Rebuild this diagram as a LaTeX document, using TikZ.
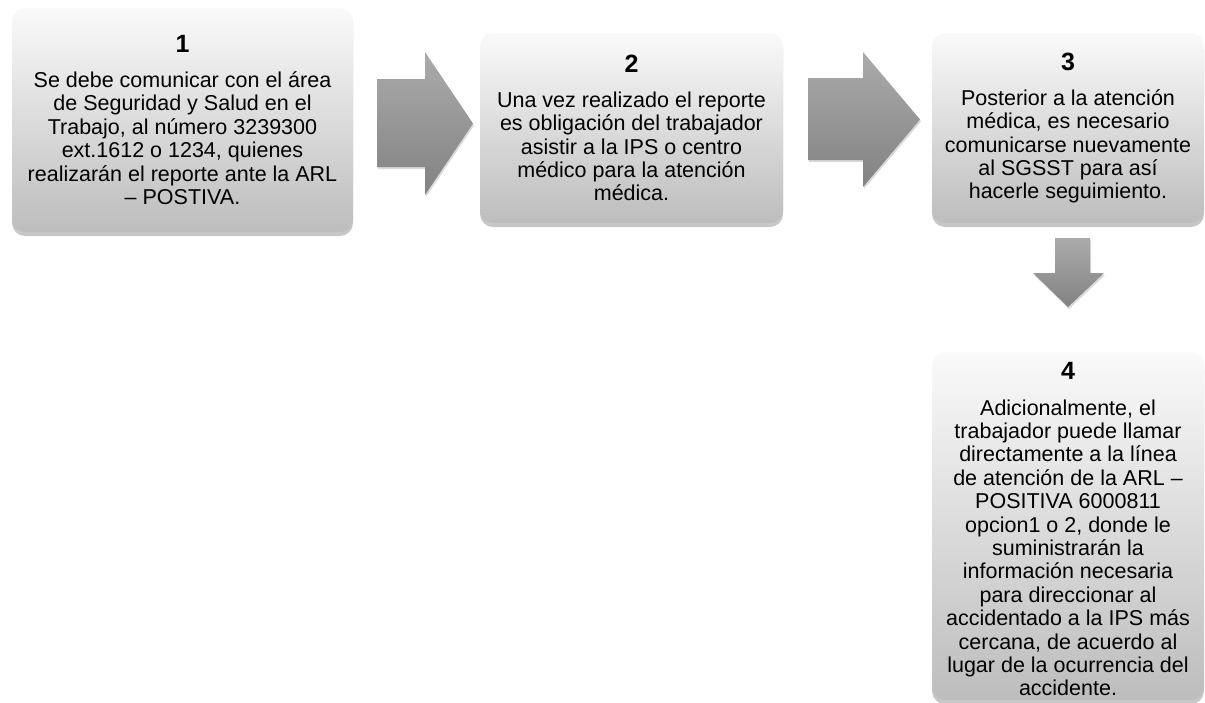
\documentclass[tikz,border=0pt]{standalone}
\usepackage{fontspec}
\setmainfont{Liberation Sans}
\usetikzlibrary{shadows}
\definecolor{boxtop}{HTML}{FAFAFA}
\definecolor{boxbot}{HTML}{BDBDBD}
\definecolor{arrtop}{HTML}{ABABAB}
\definecolor{arrbot}{HTML}{828282}
\tikzset{
  stepbox/.style={rounded corners=13pt, top color=boxtop, bottom color=boxbot,
    draw=none, align=center, inner sep=0pt,
    font=\fontsize{21.5}{23.4}\selectfont,
    drop shadow={shadow xshift=0pt, shadow yshift=-4pt, opacity=0.22, fill=black}},
  blockarrow/.style={top color=arrtop, bottom color=arrbot, draw=none,
    drop shadow={shadow xshift=1pt, shadow yshift=-2pt, opacity=0.15, fill=black}},
}
\newcommand{\stepnum}[1]{{\fontsize{25}{28}\selectfont\bfseries #1}\\[11.7pt]}
\begin{document}
\begin{tikzpicture}[x=1pt,y=-1pt]
\useasboundingbox (0,0) rectangle (1205,702);
\node[stepbox, minimum width=341pt, minimum height=224pt] (b1) at (182.5,120) {%
\stepnum{1}Se debe comunicar con el área\\de Seguridad y Salud en el\\Trabajo, al número 3239300\\ext.1612 o 1234, quienes\\realizarán el reporte ante la ARL\\– POSTIVA.};
\node[stepbox, minimum width=303pt, minimum height=190pt] (b2) at (631.5,128) {%
\stepnum{2}Una vez realizado el reporte\\es obligación del trabajador\\asistir a la IPS o centro\\médico para la atención\\médica.};
\node[stepbox, minimum width=272pt, minimum height=190pt] (b3) at (1068,128) {%
\stepnum{3}Posterior a la atención\\médica, es necesario\\comunicarse nuevamente\\al SGSST para así\\hacerle seguimiento.};
\node[stepbox, minimum width=272pt, minimum height=348pt] (b4) at (1068,526) {%
\rule{0pt}{24pt}\stepnum{4}Adicionalmente, el\\trabajador puede llamar\\directamente a la línea\\de atención de la ARL –\\POSITIVA 6000811\\opcion1 o 2, donde le\\suministrarán la\\información necesaria\\para direccionar al\\accidentado a la IPS más\\cercana, de acuerdo al\\lugar de la ocurrencia del\\accidente.};
% block arrows
\path[blockarrow] (377,79) -- (425,79) -- (425,52) -- (473,123.5) -- (425,195) -- (425,167) -- (377,167) -- cycle;
\path[blockarrow] (808,78) -- (863,78) -- (863,52) -- (920,119.5) -- (863,187) -- (863,160) -- (808,160) -- cycle;
\path[blockarrow] (1055,238) -- (1090,238) -- (1090,273) -- (1104,273) -- (1068,307) -- (1033,273) -- (1055,273) -- cycle;
\end{tikzpicture}
\end{document}
